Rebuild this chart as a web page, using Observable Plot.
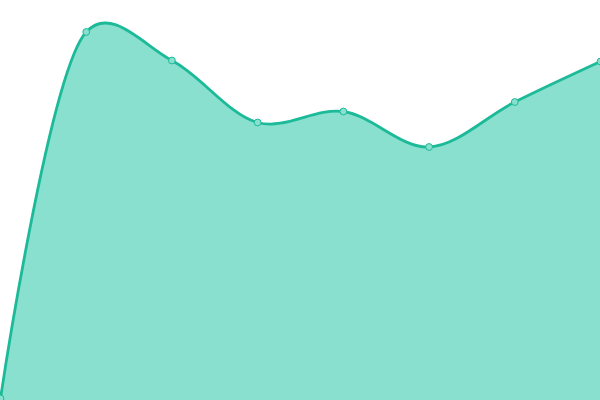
<!DOCTYPE html>
<html><head><meta charset="utf-8">
<script src="https://cdn.jsdelivr.net/npm/d3@7"></script>
<script src="https://cdn.jsdelivr.net/npm/@observablehq/plot@0.6"></script>
<style>html,body{margin:0;padding:0;background:#fff;overflow:hidden}</style>
</head><body><div id="chart"></div>
<script>
const categories = [0, 1, 2, 3, 4, 5, 6, 7];
const values = [2, 368.5, 340, 278, 289, 253.5, 298.5, 339];
const data = categories.map((c, i) => ({x: c, y: values[i]}));
const curve = d3.curveCatmullRom.alpha(0.28);
const chart = Plot.plot({
  width: 600, height: 400,
  margin: 0,
  x: {domain: [0, 7], range: [0, 600], axis: null},
  y: {domain: [0, 400], range: [400, 0], axis: null},
  marks: [
    Plot.areaY(data, {x: "x", y: "y", fill: "#89e0cf", curve}),
    Plot.lineY(data, {x: "x", y: "y", stroke: "#1cba98", strokeWidth: 2.8, curve}),
    Plot.dot(data, {x: "x", y: "y", r: 3.4, fill: "#8ae0cf", stroke: "#1cba98", strokeWidth: 1})
  ]
});
document.getElementById("chart").appendChild(chart);
</script></body></html>
